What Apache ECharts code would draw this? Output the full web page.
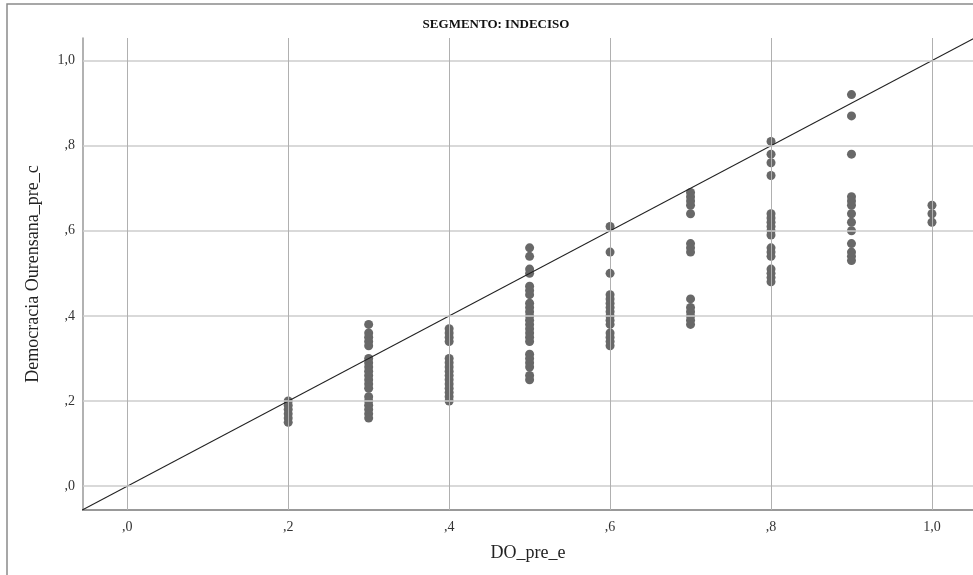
<!DOCTYPE html>
<html>
<head>
<meta charset="utf-8">
<script src="https://cdn.jsdelivr.net/npm/echarts@6/dist/echarts.min.js"></script>
<style>
html,body{margin:0;padding:0;background:#fff;}
#chart{width:973px;height:575px;}
</style>
</head>
<body>
<div id="chart"></div>
<script>
// ---- data ----
const titleText = "SEGMENTO: INDECISO";
const xName = "DO_pre_e";
const yName = "Democracia Ourensana_pre_c";
const xTicks = [0, 0.2, 0.4, 0.6, 0.8, 1.0];
const yTicks = [0, 0.2, 0.4, 0.6, 0.8, 1.0];
const tickLabels = [",0", ",2", ",4", ",6", ",8", "1,0"];
const xMin = -0.055, xMax = 1.051;
const yMin = -0.056, yMax = 1.053;

const y_at_02 = [0.20, 0.19, 0.18, 0.17, 0.16, 0.15];
const y_at_03 = [0.38, 0.36, 0.35, 0.34, 0.33, 0.30, 0.29, 0.28, 0.27, 0.26, 0.25, 0.24, 0.23, 0.21, 0.20, 0.19, 0.18, 0.17, 0.16];
const y_at_04 = [0.37, 0.36, 0.35, 0.34, 0.30, 0.29, 0.28, 0.27, 0.26, 0.25, 0.24, 0.23, 0.22, 0.21, 0.20];
const y_at_05 = [0.56, 0.54, 0.51, 0.50, 0.47, 0.46, 0.45, 0.43, 0.42, 0.41, 0.40, 0.39, 0.38, 0.37, 0.36, 0.35, 0.34, 0.31, 0.30, 0.29, 0.28, 0.26, 0.25];
const y_at_06 = [0.61, 0.55, 0.50, 0.45, 0.44, 0.43, 0.42, 0.41, 0.40, 0.39, 0.38, 0.36, 0.35, 0.34, 0.33];
const y_at_07 = [0.69, 0.68, 0.67, 0.66, 0.64, 0.57, 0.56, 0.55, 0.44, 0.42, 0.41, 0.40, 0.39, 0.38];
const y_at_08 = [0.81, 0.78, 0.76, 0.73, 0.64, 0.63, 0.62, 0.61, 0.60, 0.59, 0.56, 0.55, 0.54, 0.51, 0.50, 0.49, 0.48];
const y_at_09 = [0.92, 0.87, 0.78, 0.68, 0.67, 0.66, 0.64, 0.62, 0.60, 0.57, 0.55, 0.54, 0.53];
const y_at_10 = [0.66, 0.64, 0.62];

const xGroups = [0.2, 0.3, 0.4, 0.5, 0.6, 0.7, 0.8, 0.9, 1.0];
const yGroups = [y_at_02, y_at_03, y_at_04, y_at_05, y_at_06, y_at_07, y_at_08, y_at_09, y_at_10];

// ---- build ----
const points = [];
xGroups.forEach((x, i) => yGroups[i].forEach(y => points.push([x, y])));
const refLine = [[Math.min(xMin, yMin) - 0.05, Math.min(xMin, yMin) - 0.05], [Math.max(xMax, yMax) + 0.05, Math.max(xMax, yMax) + 0.05]];

const serif = '"Liberation Serif", "DejaVu Serif", serif';
const labelFor = v => {
  const i = xTicks.findIndex(t => Math.abs(t - v) < 1e-6);
  return i >= 0 ? tickLabels[i] : '';
};

const chart = echarts.init(document.getElementById('chart'), null, {renderer: 'canvas'});
chart.setOption({
  animation: false,
  backgroundColor: '#fff',
  grid: {left: 83, right: 0, top: 38, bottom: 65},
  graphic: [
    {type: 'rect', shape: {x: 7, y: 4, width: 1100, height: 700}, style: {fill: 'none', stroke: '#8a8a8a', lineWidth: 1.5}, silent: true, z: 0},
    {type: 'text', x: 496, y: 25, style: {text: titleText, font: 'bold 13px ' + serif, fill: '#111', align: 'center', verticalAlign: 'middle'}, z: 10}
  ],
  xAxis: {
    type: 'value', min: xMin, max: xMax,
    name: xName, nameLocation: 'middle', nameGap: 34,
    nameTextStyle: {fontFamily: serif, fontSize: 18, color: '#222'},
    axisLine: {show: true, onZero: false, lineStyle: {color: '#999', width: 2}},
    axisTick: {show: false},
    splitLine: {show: false},
    axisLabel: {customValues: xTicks, formatter: labelFor, fontFamily: serif, fontSize: 14, color: '#333', margin: 10}
  },
  yAxis: {
    type: 'value', min: yMin, max: yMax,
    name: yName, nameLocation: 'middle', nameGap: 41,
    nameTextStyle: {fontFamily: serif, fontSize: 18, color: '#222'},
    axisLine: {show: true, onZero: false, lineStyle: {color: '#999', width: 1.5}},
    axisTick: {show: false},
    splitLine: {show: false},
    axisLabel: {customValues: yTicks, formatter: labelFor, fontFamily: serif, fontSize: 14, color: '#333', margin: 8}
  },
  series: [
    {
      type: 'line', data: [], silent: true, z: 1,
      markLine: {
        silent: true, symbol: ['none', 'none'], label: {show: false}, animation: false,
        lineStyle: {color: '#cdcdcd', width: 1.5, type: 'solid'},
        data: yTicks.map(v => ({yAxis: v}))
      }
    },
    {
      type: 'line', data: [], silent: true, z: 1,
      markLine: {
        silent: true, symbol: ['none', 'none'], label: {show: false}, animation: false,
        lineStyle: {color: '#b0b0b0', width: 1, type: 'solid'},
        data: xTicks.map(v => ({xAxis: v}))
      }
    },
    {
      type: 'scatter', data: points, symbol: 'circle', symbolSize: 9, z: 3,
      itemStyle: {color: '#686868', opacity: 1}
    },
    {
      type: 'line', data: refLine, symbol: 'none', z: 4, clip: true, silent: true,
      lineStyle: {color: '#222', width: 1.2}
    }
  ]
});
</script>
</body>
</html>
